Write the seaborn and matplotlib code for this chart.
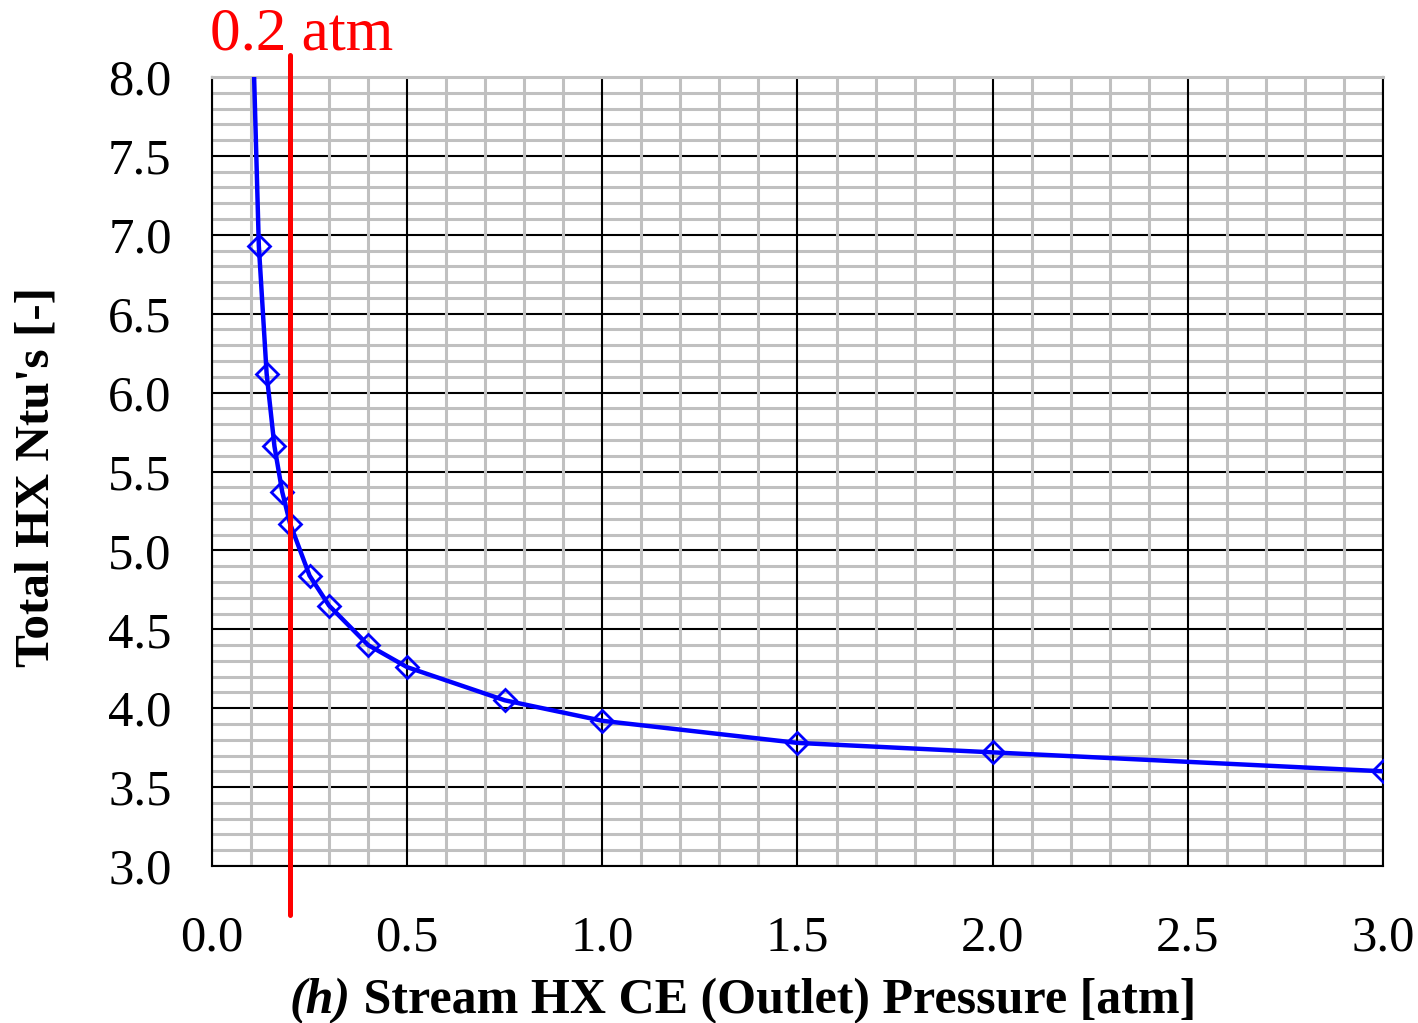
import seaborn as sns
import matplotlib.pyplot as plt
from matplotlib.ticker import MultipleLocator

# data (first point lies above the 8.0 limit)
pressure = [0.10, 0.12, 0.14, 0.16, 0.18, 0.20, 0.25, 0.30, 0.40, 0.50,
            0.75, 1.00, 1.50, 2.00, 3.00]
ntus = [8.70, 6.93, 6.12, 5.66, 5.37, 5.17, 4.84, 4.65, 4.40, 4.26,
        4.05, 3.92, 3.78, 3.72, 3.60]
x_ticks = [0.0, 0.5, 1.0, 1.5, 2.0, 2.5, 3.0]
y_ticks = [3.0, 3.5, 4.0, 4.5, 5.0, 5.5, 6.0, 6.5, 7.0, 7.5, 8.0]
marker_p = 0.2

sns.set_style('white')
plt.rcParams['font.family'] = ['Liberation Serif', 'DejaVu Serif']
plt.rcParams['text.color'] = 'black'

fig = plt.figure(figsize=(14.18, 10.23), dpi=100)
ax = fig.add_axes([0.1495, 0.1535, 0.8258, 0.7712])

sns.lineplot(x=pressure, y=ntus, ax=ax, color='#0000ff', linewidth=3.2,
             marker='D', markersize=11, markerfacecolor='none',
             markeredgecolor='#0000ff', markeredgewidth=2, zorder=5)

ax.set_xlim(0, 3.0)
ax.set_ylim(3.0, 8.0)
ax.set_xticks(x_ticks)
ax.set_yticks(y_ticks)
ax.set_xticklabels([f'{v:.1f}' for v in x_ticks])
ax.set_yticklabels([f'{v:.1f}' for v in y_ticks])
ax.xaxis.set_minor_locator(MultipleLocator(0.1))
ax.yaxis.set_minor_locator(MultipleLocator(0.1))

# grid: gray minor, black major; vertical lines drawn over horizontal ones
ax.set_axisbelow(True)
ax.grid(which='minor', color='#c0c0c0', linewidth=2.2)
ax.grid(which='major', color='black', linewidth=1.5)
ax.yaxis.set_zorder(0.5)
ax.xaxis.set_zorder(0.6)
ax.tick_params(which='minor', length=0)
ax.tick_params(which='major', direction='out', length=11, width=1.5,
               color='black', labelcolor='black', labelsize=36.5)
ax.tick_params(axis='x', pad=24)
ax.tick_params(axis='y', pad=18)

for side in ['left', 'right', 'bottom']:
    ax.spines[side].set_color('black')
    ax.spines[side].set_linewidth(1.5)
ax.spines['top'].set_color('#c0c0c0')
ax.spines['top'].set_linewidth(2.2)

# red marker line at 0.2 atm
ax.axvline(marker_p, ymin=-0.062, ymax=1.028, color='#ff0000',
           linewidth=3.6, clip_on=False, zorder=6)
fig.text(210 / 1418, 1 - 50 / 1023, '0.2 atm', color='#ff0000',
         fontsize=44, ha='left', va='baseline')

# axis labels
fig.text(37 / 1418, 1 - 477 / 1023, "Total HX Ntu's [-]", rotation=90,
         fontsize=35.5, fontweight='bold', ha='center', va='center')
t1 = fig.text(290 / 1418, 1 - 1013 / 1023, '(h)', fontsize=36,
              fontweight='bold', fontstyle='italic', ha='left', va='baseline')
ax.annotate(' Stream HX CE (Outlet) Pressure [atm]', xy=(1, 0), xycoords=t1,
            fontsize=36, fontweight='bold', ha='left', va='bottom')

plt.savefig('out.png', dpi=100)
plt.close()
